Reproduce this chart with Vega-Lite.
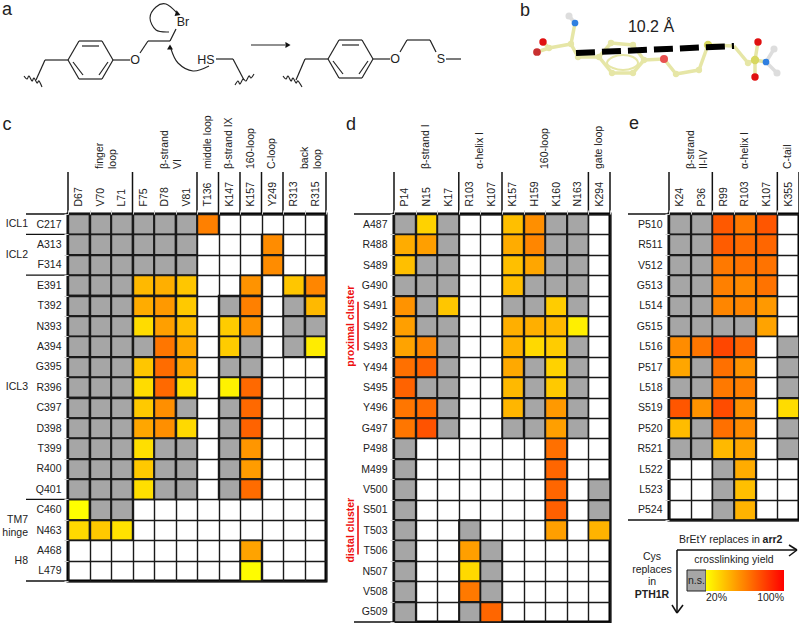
{"$schema":"https://vega.github.io/schema/vega-lite/v6.json","padding":0,"background":"white","config":{"font":"Liberation Sans","view":{"stroke":null},"text":{"lineBreak":"\n","color":"#222"},"axis":{"labelFont":"Liberation Sans"}},
"datasets":{
"c":[{"row":"C217","col":"D67"},{"row":"C217","col":"V70"},{"row":"C217","col":"L71"},{"row":"C217","col":"F75"},{"row":"C217","col":"D78"},{"row":"C217","col":"V81"},{"row":"C217","col":"T136","yield":60},
{"row":"A313","col":"D67"},{"row":"A313","col":"V70"},{"row":"A313","col":"L71"},{"row":"A313","col":"F75"},{"row":"A313","col":"D78"},{"row":"A313","col":"V81"},{"row":"A313","col":"Y249","yield":56},
{"row":"F314","col":"D67"},{"row":"F314","col":"V70"},{"row":"F314","col":"L71"},{"row":"F314","col":"F75"},{"row":"F314","col":"D78"},{"row":"F314","col":"V81"},{"row":"F314","col":"Y249","yield":56},
{"row":"E391","col":"D67"},{"row":"E391","col":"V70"},{"row":"E391","col":"L71"},{"row":"E391","col":"F75","yield":42},{"row":"E391","col":"D78","yield":45},{"row":"E391","col":"V81","yield":38},{"row":"E391","col":"K157","yield":54},{"row":"E391","col":"R313","yield":38},{"row":"E391","col":"R315","yield":58},
{"row":"T392","col":"D67"},{"row":"T392","col":"V70"},{"row":"T392","col":"L71"},{"row":"T392","col":"F75","yield":46},{"row":"T392","col":"D78","yield":52},{"row":"T392","col":"V81","yield":37},{"row":"T392","col":"K147"},{"row":"T392","col":"K157","yield":60},{"row":"T392","col":"R313"},{"row":"T392","col":"R315","yield":42},
{"row":"N393","col":"D67"},{"row":"N393","col":"V70"},{"row":"N393","col":"L71"},{"row":"N393","col":"F75","yield":31},{"row":"N393","col":"D78","yield":50},{"row":"N393","col":"V81","yield":40},{"row":"N393","col":"K147","yield":36},{"row":"N393","col":"K157","yield":54},{"row":"N393","col":"R313"},{"row":"N393","col":"R315"},
{"row":"A394","col":"D67"},{"row":"A394","col":"V70"},{"row":"A394","col":"L71"},{"row":"A394","col":"F75"},{"row":"A394","col":"D78","yield":63},{"row":"A394","col":"V81","yield":47},{"row":"A394","col":"K147","yield":36},{"row":"A394","col":"K157"},{"row":"A394","col":"R313"},{"row":"A394","col":"R315","yield":26},
{"row":"G395","col":"D67"},{"row":"G395","col":"V70"},{"row":"G395","col":"L71"},{"row":"G395","col":"F75","yield":38},{"row":"G395","col":"D78","yield":66},{"row":"G395","col":"V81","yield":47},{"row":"G395","col":"K147"},{"row":"G395","col":"K157"},
{"row":"R396","col":"D67"},{"row":"R396","col":"V70"},{"row":"R396","col":"L71"},{"row":"R396","col":"F75","yield":31},{"row":"R396","col":"D78","yield":67},{"row":"R396","col":"V81","yield":30},{"row":"R396","col":"K147","yield":24},{"row":"R396","col":"K157","yield":67},
{"row":"C397","col":"D67"},{"row":"C397","col":"V70"},{"row":"C397","col":"L71"},{"row":"C397","col":"F75","yield":37},{"row":"C397","col":"D78","yield":55},{"row":"C397","col":"V81"},{"row":"C397","col":"K147"},{"row":"C397","col":"K157","yield":67},
{"row":"D398","col":"D67"},{"row":"D398","col":"V70"},{"row":"D398","col":"L71"},{"row":"D398","col":"F75","yield":48},{"row":"D398","col":"D78","yield":55},{"row":"D398","col":"V81","yield":32},{"row":"D398","col":"K147"},{"row":"D398","col":"K157","yield":69},
{"row":"T399","col":"D67"},{"row":"T399","col":"V70"},{"row":"T399","col":"L71"},{"row":"T399","col":"F75","yield":30},{"row":"T399","col":"D78"},{"row":"T399","col":"V81"},{"row":"T399","col":"K147"},{"row":"T399","col":"K157","yield":53},
{"row":"R400","col":"D67"},{"row":"R400","col":"V70"},{"row":"R400","col":"L71"},{"row":"R400","col":"F75","yield":37},{"row":"R400","col":"D78"},{"row":"R400","col":"V81"},{"row":"R400","col":"K147"},{"row":"R400","col":"K157","yield":51},
{"row":"Q401","col":"D67"},{"row":"Q401","col":"V70"},{"row":"Q401","col":"L71"},{"row":"Q401","col":"F75","yield":30},{"row":"Q401","col":"D78"},{"row":"Q401","col":"V81"},{"row":"Q401","col":"K147"},{"row":"Q401","col":"K157","yield":66},
{"row":"C460","col":"D67","yield":20},{"row":"C460","col":"V70"},{"row":"C460","col":"L71"},
{"row":"N463","col":"D67","yield":32},{"row":"N463","col":"V70","yield":37},{"row":"N463","col":"L71","yield":29},
{"row":"A468","col":"K157","yield":49},{"row":"L479","col":"K157","yield":21}],
"d":[{"row":"A487","col":"P14"},{"row":"A487","col":"N15","yield":34},{"row":"A487","col":"K17"},{"row":"A487","col":"K157","yield":40},{"row":"A487","col":"H159","yield":55},{"row":"A487","col":"K160"},{"row":"A487","col":"N163"},
{"row":"R488","col":"P14","yield":46},{"row":"R488","col":"N15","yield":50},{"row":"R488","col":"K17"},{"row":"R488","col":"K157","yield":46},{"row":"R488","col":"H159","yield":58},{"row":"R488","col":"K160"},{"row":"R488","col":"N163"},
{"row":"S489","col":"P14","yield":40},{"row":"S489","col":"N15"},{"row":"S489","col":"K17"},{"row":"S489","col":"K157","yield":40},{"row":"S489","col":"H159","yield":48},{"row":"S489","col":"K160"},{"row":"S489","col":"N163"},
{"row":"G490","col":"P14"},{"row":"G490","col":"N15"},{"row":"G490","col":"K17"},{"row":"G490","col":"K157","yield":40},{"row":"G490","col":"H159"},{"row":"G490","col":"K160"},{"row":"G490","col":"N163"},
{"row":"S491","col":"P14","yield":54},{"row":"S491","col":"N15"},{"row":"S491","col":"K17","yield":38},{"row":"S491","col":"K157"},{"row":"S491","col":"H159"},{"row":"S491","col":"K160","yield":36},{"row":"S491","col":"N163"},
{"row":"S492","col":"P14","yield":50},{"row":"S492","col":"N15"},{"row":"S492","col":"K17"},{"row":"S492","col":"K157","yield":45},{"row":"S492","col":"H159","yield":45},{"row":"S492","col":"K160","yield":42},{"row":"S492","col":"N163","yield":25},
{"row":"S493","col":"P14","yield":49},{"row":"S493","col":"N15","yield":58},{"row":"S493","col":"K17"},{"row":"S493","col":"K157","yield":44},{"row":"S493","col":"H159","yield":32},{"row":"S493","col":"K160","yield":36},{"row":"S493","col":"N163"},
{"row":"Y494","col":"P14","yield":65},{"row":"Y494","col":"N15","yield":69},{"row":"Y494","col":"K17"},{"row":"Y494","col":"K157","yield":47},{"row":"Y494","col":"H159"},{"row":"Y494","col":"K160","yield":34},{"row":"Y494","col":"N163"},
{"row":"S495","col":"P14","yield":69},{"row":"S495","col":"N15"},{"row":"S495","col":"K17"},{"row":"S495","col":"K157","yield":42},{"row":"S495","col":"H159"},{"row":"S495","col":"K160","yield":37},{"row":"S495","col":"N163"},
{"row":"Y496","col":"P14","yield":63},{"row":"Y496","col":"N15","yield":66},{"row":"Y496","col":"K17"},{"row":"Y496","col":"K157","yield":43},{"row":"Y496","col":"H159"},{"row":"Y496","col":"K160","yield":52},{"row":"Y496","col":"N163"},
{"row":"G497","col":"P14","yield":63},{"row":"G497","col":"N15","yield":74},{"row":"G497","col":"K17"},{"row":"G497","col":"K157"},{"row":"G497","col":"H159"},{"row":"G497","col":"K160","yield":50},{"row":"G497","col":"N163"},
{"row":"P498","col":"P14"},{"row":"P498","col":"K160","yield":65},{"row":"M499","col":"P14"},{"row":"M499","col":"K160","yield":68},
{"row":"V500","col":"P14"},{"row":"V500","col":"K160","yield":68},{"row":"V500","col":"K294"},
{"row":"S501","col":"P14"},{"row":"S501","col":"K160","yield":70},{"row":"S501","col":"K294"},
{"row":"T503","col":"P14"},{"row":"T503","col":"R103"},{"row":"T503","col":"K160","yield":50},{"row":"T503","col":"K294","yield":44},
{"row":"T506","col":"P14"},{"row":"T506","col":"R103","yield":50},{"row":"T506","col":"K107"},
{"row":"N507","col":"P14"},{"row":"N507","col":"R103","yield":32},{"row":"N507","col":"K107"},
{"row":"V508","col":"P14"},{"row":"V508","col":"R103","yield":62},{"row":"V508","col":"K107"},
{"row":"G509","col":"P14"},{"row":"G509","col":"R103"},{"row":"G509","col":"K107","yield":68}],
"e":[{"row":"P510","col":"K24"},{"row":"P510","col":"P36"},{"row":"P510","col":"R99","yield":72},{"row":"P510","col":"R103","yield":62},{"row":"P510","col":"K107","yield":73},
{"row":"R511","col":"K24"},{"row":"R511","col":"P36"},{"row":"R511","col":"R99","yield":71},{"row":"R511","col":"R103","yield":66},{"row":"R511","col":"K107","yield":68},
{"row":"V512","col":"K24"},{"row":"V512","col":"P36"},{"row":"V512","col":"R99","yield":62},{"row":"V512","col":"R103","yield":64},{"row":"V512","col":"K107","yield":64},
{"row":"G513","col":"K24"},{"row":"G513","col":"P36"},{"row":"G513","col":"R99","yield":60},{"row":"G513","col":"R103","yield":57},{"row":"G513","col":"K107","yield":64},
{"row":"L514","col":"K24"},{"row":"L514","col":"P36"},{"row":"L514","col":"R99","yield":58},{"row":"L514","col":"R103","yield":58},{"row":"L514","col":"K107","yield":52},
{"row":"G515","col":"K24"},{"row":"G515","col":"P36"},{"row":"G515","col":"R99"},{"row":"G515","col":"R103"},{"row":"G515","col":"K107","yield":49},
{"row":"L516","col":"K24","yield":56},{"row":"L516","col":"P36","yield":63},{"row":"L516","col":"R99","yield":78},{"row":"L516","col":"R103","yield":68},{"row":"L516","col":"K355"},
{"row":"P517","col":"K24","yield":48},{"row":"P517","col":"P36"},{"row":"P517","col":"R99","yield":65},{"row":"P517","col":"R103","yield":54},{"row":"P517","col":"K355"},
{"row":"L518","col":"K24"},{"row":"L518","col":"P36"},{"row":"L518","col":"R99","yield":62},{"row":"L518","col":"R103","yield":60},{"row":"L518","col":"K355"},
{"row":"S519","col":"K24","yield":73},{"row":"S519","col":"P36","yield":54},{"row":"S519","col":"R99","yield":76},{"row":"S519","col":"R103","yield":55},{"row":"S519","col":"K355","yield":31},
{"row":"P520","col":"K24","yield":41},{"row":"P520","col":"P36"},{"row":"P520","col":"R99","yield":65},{"row":"P520","col":"R103","yield":56},{"row":"P520","col":"K355"},
{"row":"R521","col":"K24"},{"row":"R521","col":"P36"},{"row":"R521","col":"R99","yield":42},{"row":"R521","col":"R103","yield":48},{"row":"R521","col":"K355"},
{"row":"L522","col":"R99"},{"row":"L522","col":"R103","yield":46},{"row":"L523","col":"R99"},{"row":"L523","col":"R103","yield":40},{"row":"P524","col":"R99"},{"row":"P524","col":"R103","yield":44}]
},
"vconcat":[
{"width":732,"height":130,"data":{"values":[{"x":0.5,"y":0.5}]},
"layer":[
{"mark":{"type":"point","opacity":0,"size":1,"strokeWidth":0},"encoding":{"x":{"field":"x","type":"quantitative","scale":{"domain":[67,799],"nice":false,"zero":false},"axis":null},"y":{"field":"y","type":"quantitative","scale":{"domain":[130,0],"nice":false,"zero":false},"axis":null}}},
{"data":{"values":[{"x":35,"y":80,"x2":44,"y2":60},{"x":44,"y":60,"x2":67,"y2":60},{"x":67,"y":60,"x2":78,"y2":41},{"x":78,"y":41,"x2":101,"y2":41},{"x":101,"y":41,"x2":112,"y2":60},{"x":112,"y":60,"x2":101,"y2":79},{"x":101,"y":79,"x2":78,"y2":79},{"x":78,"y":79,"x2":67,"y2":60},{"x":81,"y":46,"x2":98,"y2":46},{"x":72,"y":62,"x2":82,"y2":75},{"x":107,"y":62,"x2":98,"y2":75},{"x":112,"y":60,"x2":129,"y2":60},{"x":139,"y":53,"x2":147,"y2":41},{"x":147,"y":41,"x2":169,"y2":41},{"x":169,"y":41,"x2":175,"y2":29},{"x":215,"y":59,"x2":232,"y2":59},{"x":232,"y":59,"x2":243,"y2":80},{"x":295,"y":80,"x2":304,"y2":59},{"x":304,"y":59,"x2":327,"y2":59},{"x":327,"y":59,"x2":338,"y2":40},{"x":338,"y":40,"x2":361,"y2":40},{"x":361,"y":40,"x2":372,"y2":59},{"x":372,"y":59,"x2":361,"y2":78},{"x":361,"y":78,"x2":338,"y2":78},{"x":338,"y":78,"x2":327,"y2":59},{"x":341,"y":45,"x2":358,"y2":45},{"x":332,"y":61,"x2":342,"y2":74},{"x":367,"y":61,"x2":358,"y2":74},{"x":372,"y":59,"x2":389,"y2":59},{"x":399,"y":52,"x2":406,"y2":40},{"x":406,"y":40,"x2":429,"y2":40},{"x":429,"y":40,"x2":435,"y2":52},{"x":445,"y":59,"x2":460,"y2":59},{"x":250,"y":45,"x2":284,"y2":45}]},"mark":{"type":"rule","color":"#222","strokeWidth":1.2},"encoding":{"x":{"field":"x","type":"quantitative","axis":null},"y":{"field":"y","type":"quantitative","axis":null},"x2":{"field":"x2"},"y2":{"field":"y2"}}},
{"data":{"values":[{"s":"a1","i":1,"x":168,"y":32},{"s":"a1","i":2,"x":155,"y":30},{"s":"a1","i":3,"x":149,"y":18},{"s":"a1","i":4,"x":155,"y":7},{"s":"a1","i":5,"x":165,"y":4},{"s":"a1","i":6,"x":176,"y":13},
{"s":"a2","i":1,"x":208,"y":66},{"s":"a2","i":2,"x":192,"y":71},{"s":"a2","i":3,"x":177,"y":63},{"s":"a2","i":4,"x":170,"y":49},
{"s":"w1","i":1,"x":23,"y":76},{"s":"w1","i":2,"x":26,"y":79},{"s":"w1","i":3,"x":28,"y":76},{"s":"w1","i":4,"x":31,"y":81},{"s":"w1","i":5,"x":33,"y":78},{"s":"w1","i":6,"x":36,"y":83},{"s":"w1","i":7,"x":38,"y":81},{"s":"w1","i":8,"x":41,"y":87},
{"s":"w2","i":1,"x":234,"y":85},{"s":"w2","i":2,"x":237,"y":81},{"s":"w2","i":3,"x":239,"y":84},{"s":"w2","i":4,"x":242,"y":79},{"s":"w2","i":5,"x":245,"y":81},{"s":"w2","i":6,"x":248,"y":76},{"s":"w2","i":7,"x":250,"y":78},{"s":"w2","i":8,"x":253,"y":74},
{"s":"w3","i":1,"x":282,"y":76},{"s":"w3","i":2,"x":285,"y":79},{"s":"w3","i":3,"x":287,"y":76},{"s":"w3","i":4,"x":290,"y":81},{"s":"w3","i":5,"x":292,"y":78},{"s":"w3","i":6,"x":295,"y":83},{"s":"w3","i":7,"x":297,"y":81},{"s":"w3","i":8,"x":301,"y":87}]},"mark":{"type":"line","interpolate":"cardinal","color":"#222","strokeWidth":1.1},"encoding":{"x":{"field":"x","type":"quantitative","axis":null},"y":{"field":"y","type":"quantitative","axis":null},"detail":{"field":"s"},"order":{"field":"i"}}},
{"data":{"values":[{"x":177,"y":14,"a":110},{"x":169,"y":47,"a":0},{"x":287,"y":45,"a":90}]},"mark":{"type":"point","shape":"triangle-up","filled":true,"color":"#111","opacity":1,"size":35},"encoding":{"x":{"field":"x","type":"quantitative","axis":null},"y":{"field":"y","type":"quantitative","axis":null},"angle":{"field":"a","type":"quantitative","scale":null}}},
{"data":{"values":[{"atom":"C","x":570,"y":44,"x2":574,"y2":23},{"atom":"H","x":574,"y":23,"x2":568,"y2":16},{"atom":"C","x":570,"y":44,"x2":548,"y2":48},{"atom":"C","x":548,"y":48,"x2":542,"y2":42},{"atom":"C","x":548,"y":48,"x2":536,"y2":52},{"atom":"C","x":570,"y":44,"x2":577,"y2":57},{"atom":"C","x":577,"y":57,"x2":598,"y2":57},{"atom":"C","x":598,"y":57,"x2":610,"y2":43},{"atom":"C","x":610,"y":43,"x2":632,"y2":45},{"atom":"C","x":632,"y":45,"x2":643,"y2":60},{"atom":"C","x":643,"y":60,"x2":632,"y2":73},{"atom":"C","x":632,"y":73,"x2":611,"y2":73},{"atom":"C","x":611,"y":73,"x2":598,"y2":57},{"atom":"C","x":643,"y":60,"x2":663,"y2":59},{"atom":"C","x":663,"y":59,"x2":675,"y2":74},{"atom":"C","x":675,"y":74,"x2":698,"y2":70},{"atom":"C","x":698,"y":70,"x2":707,"y2":45},{"atom":"C","x":707,"y":45,"x2":733,"y2":46},{"atom":"C","x":733,"y":46,"x2":747,"y2":63},{"atom":"C","x":747,"y":63,"x2":754,"y2":60},{"atom":"C","x":754,"y":60,"x2":757,"y2":42},{"atom":"C","x":754,"y":60,"x2":754,"y2":77},{"atom":"C","x":754,"y":60,"x2":765,"y2":62},{"atom":"H","x":765,"y":62,"x2":773,"y2":49},{"atom":"H","x":765,"y":62,"x2":776,"y2":73}]},"mark":{"type":"rule","strokeWidth":3.5},"encoding":{"x":{"field":"x","type":"quantitative","axis":null},"y":{"field":"y","type":"quantitative","axis":null},"x2":{"field":"x2"},"y2":{"field":"y2"},"color":{"field":"atom","type":"nominal","legend":null,"scale":{"domain":["C","N","H","O","O2","O3","S"],"range":["#e6e6a6","#2f7fe0","#dddddd","#e01010","#c83030","#e85050","#d8d860"]}}}},
{"data":{"values":[{"s":"r","i":1,"x":606,"y":63},{"s":"r","i":2,"x":612,"y":57},{"s":"r","i":3,"x":622,"y":55},{"s":"r","i":4,"x":632,"y":57},{"s":"r","i":5,"x":637,"y":63},{"s":"r","i":6,"x":632,"y":68},{"s":"r","i":7,"x":622,"y":70},{"s":"r","i":8,"x":612,"y":68}]},"mark":{"type":"line","interpolate":"cardinal-closed","color":"#e6e6a6","strokeWidth":2},"encoding":{"x":{"field":"x","type":"quantitative","axis":null},"y":{"field":"y","type":"quantitative","axis":null},"order":{"field":"i"}}},
{"data":{"values":[{"atom":"N","x":574,"y":23},{"atom":"H","x":568,"y":16},{"atom":"O","x":542,"y":42},{"atom":"O2","x":536,"y":52},{"atom":"C","x":570,"y":44},{"atom":"C","x":548,"y":48},{"atom":"C","x":577,"y":57},{"atom":"C","x":598,"y":57},{"atom":"C","x":610,"y":43},{"atom":"C","x":632,"y":45},{"atom":"C","x":643,"y":60},{"atom":"C","x":632,"y":73},{"atom":"C","x":611,"y":73},{"atom":"O3","x":663,"y":59},{"atom":"C","x":675,"y":74},{"atom":"C","x":698,"y":70},{"atom":"S","x":707,"y":45},{"atom":"C","x":747,"y":63},{"atom":"S","x":754,"y":60},{"atom":"O","x":757,"y":42},{"atom":"O","x":754,"y":77},{"atom":"N","x":765,"y":62},{"atom":"H","x":773,"y":49},{"atom":"H","x":776,"y":73}]},"mark":{"type":"point","filled":true,"opacity":1},"encoding":{"x":{"field":"x","type":"quantitative","axis":null},"y":{"field":"y","type":"quantitative","axis":null},"color":{"field":"atom","type":"nominal","legend":null,"scale":{"domain":["C","N","H","O","O2","O3","S"],"range":["#e6e6a6","#2f7fe0","#dddddd","#e01010","#c83030","#e85050","#d8d860"]}},"size":{"field":"atom","type":"nominal","legend":null,"scale":{"domain":["C","N","H","O","O2","O3","S"],"range":[40,70,14,60,60,50,40]}}}},
{"data":{"values":[{"x":575,"y":53,"x2":733,"y2":46}]},"mark":{"type":"rule","color":"#000","strokeWidth":6,"strokeDash":[19,7]},"encoding":{"x":{"field":"x","type":"quantitative","axis":null},"y":{"field":"y","type":"quantitative","axis":null},"x2":{"field":"x2"},"y2":{"field":"y2"}}},
{"data":{"values":[{"x":134,"y":60,"t":"O","s":12.5},{"x":182,"y":22,"t":"Br","s":12.5},{"x":205,"y":60,"t":"HS","s":12.5},{"x":394,"y":59,"t":"O","s":12.5},{"x":440,"y":59,"t":"S","s":12.5},{"x":650,"y":27,"t":"10.2 Å","s":16},{"x":6,"y":10,"t":"a","s":18},{"x":524,"y":11,"t":"b","s":18},{"x":6,"y":125,"t":"c","s":18},{"x":350,"y":125,"t":"d","s":18},{"x":633,"y":124,"t":"e","s":18}]},"mark":{"type":"text","align":"center","baseline":"middle"},"encoding":{"x":{"field":"x","type":"quantitative","axis":null},"y":{"field":"y","type":"quantitative","axis":null},"text":{"field":"t"},"size":{"field":"s","type":"quantitative","scale":null}}},
{"data":{"values":[{"x":686,"y":570,"x2":705,"y2":591}]},"mark":{"type":"rect","fill":"#a6a6a6","stroke":"#222","strokeWidth":1},"encoding":{"x":{"field":"x","type":"quantitative","axis":null},"x2":{"field":"x2"},"y":{"field":"y","type":"quantitative","axis":null},"y2":{"field":"y2"}}},
{"data":{"values":[{"x":676,"y":550,"x2":796,"y2":550},{"x":788,"y":545,"x2":796,"y2":550},{"x":788,"y":556,"x2":796,"y2":550},{"x":676,"y":550,"x2":676,"y2":613},{"x":671,"y":605,"x2":676,"y2":613},{"x":682,"y":605,"x2":676,"y2":613}]},"mark":{"type":"rule","color":"#111","strokeWidth":1.5},"encoding":{"x":{"field":"x","type":"quantitative","axis":null},"x2":{"field":"x2"},"y":{"field":"y","type":"quantitative","axis":null},"y2":{"field":"y2"}}},
{"data":{"values":[{"x":718.5,"y":540,"t":"BrEtY replaces in"},{"x":733,"y":560,"t":"crosslinking yield"},{"x":695.5,"y":581,"t":"n.s."},{"x":651,"y":557,"t":"Cys"},{"x":651,"y":570,"t":"replaces"},{"x":651,"y":582,"t":"in"}]},"mark":{"type":"text","fontSize":10.5,"align":"center","baseline":"middle"},"encoding":{"x":{"field":"x","type":"quantitative","axis":null},"y":{"field":"y","type":"quantitative","axis":null},"text":{"field":"t"}}},
{"data":{"values":[{"x":771.5,"y":540,"t":"arr2"},{"x":651,"y":595,"t":"PTH1R"}]},"mark":{"type":"text","fontSize":10.5,"fontWeight":"bold","align":"center","baseline":"middle"},"encoding":{"x":{"field":"x","type":"quantitative","axis":null},"y":{"field":"y","type":"quantitative","axis":null},"text":{"field":"t"}}}
]},
{"resolve":{"scale":{"fill":"independent"}},"hconcat":[
{"width":258,"height":367,"view":{"stroke":"#000","strokeWidth":3},"encoding":{
"x":{"field":"col","type":"nominal","scale":{"type":"band","domain":["D67","V70","L71","F75","D78","V81","T136","K147","K157","Y249","R313","R315"],"padding":0},"axis":{"orient":"top","title":null,"labelAngle":270,"labelAlign":"left","labelBaseline":"middle","labelPadding":4,"labelFontSize":10.5,"labelColor":"#222","domain":false,"grid":true,"tickBand":"extent","gridColor":"#1a1a1a","gridWidth":1.4,"tickColor":"#cccccc","tickSize":4,"labelOverlap":false}},
"y":{"field":"row","type":"nominal","scale":{"type":"band","domain":["C217","A313","F314","E391","T392","N393","A394","G395","R396","C397","D398","T399","R400","Q401","C460","N463","A468","L479"],"padding":0},"axis":{"title":null,"labelPadding":3,"labelFontSize":10.5,"labelColor":"#222","domain":false,"grid":true,"tickBand":"extent","gridColor":"#1a1a1a","gridWidth":1.4,"tickColor":"#cccccc","tickSize":4,"labelOverlap":false}}},
"layer":[
{"data":{"name":"c"},"mark":{"type":"rect","stroke":"#1a1a1a","strokeWidth":1.4,"invalid":"show"},"encoding":{"fill":{"condition":{"test":"datum.yield==null","value":"#a6a6a6"},"field":"yield","type":"quantitative","scale":{"domain":[20,100],"range":["#ffff00","#ff0000"],"interpolate":"rgb"},"legend":null}}},
{"data":{"values":[{"col":"D67","row":"C217"},{"col":"F75","row":"C217"},{"col":"T136","row":"C217"},{"col":"K147","row":"C217"},{"col":"K157","row":"C217"},{"col":"Y249","row":"C217"},{"col":"R313","row":"C217"}]},"mark":{"type":"rule","color":"#111","strokeWidth":1.5,"yOffset":-42,"y2Offset":-10.2},"encoding":{"x":{"field":"col","type":"nominal","bandPosition":0,"scale":{"type":"band","domain":["D67","V70","L71","F75","D78","V81","T136","K147","K157","Y249","R313","R315"],"padding":0}},"y":{"field":"row","type":"nominal","bandPosition":0,"scale":{"type":"band","domain":["C217","A313","F314","E391","T392","N393","A394","G395","R396","C397","D398","T399","R400","Q401","C460","N463","A468","L479"],"padding":0}},"y2":{"field":"row"}}},
{"data":{"values":[{"col":"R315","row":"C217"}]},"mark":{"type":"rule","color":"#111","strokeWidth":1.5,"yOffset":-42,"y2Offset":-10.2},"encoding":{"x":{"field":"col","type":"nominal","bandPosition":1,"scale":{"type":"band","domain":["D67","V70","L71","F75","D78","V81","T136","K147","K157","Y249","R313","R315"],"padding":0}},"y":{"field":"row","type":"nominal","bandPosition":0,"scale":{"type":"band","domain":["C217","A313","F314","E391","T392","N393","A394","G395","R396","C397","D398","T399","R400","Q401","C460","N463","A468","L479"],"padding":0}},"y2":{"field":"row"}}},
{"data":{"values":[{"col":"D67","row":"C217"},{"col":"D67","row":"F314"},{"col":"D67","row":"Q401"},{"col":"D67","row":"L479"}]},"mark":{"type":"rule","color":"#111","strokeWidth":1.3,"xOffset":-42,"x2Offset":-10.75},"encoding":{"y":{"field":"row","type":"nominal","bandPosition":1,"scale":{"type":"band","domain":["C217","A313","F314","E391","T392","N393","A394","G395","R396","C397","D398","T399","R400","Q401","C460","N463","A468","L479"],"padding":0}},"x":{"field":"col","type":"nominal","bandPosition":0,"scale":{"type":"band","domain":["D67","V70","L71","F75","D78","V81","T136","K147","K157","Y249","R313","R315"],"padding":0}},"x2":{"field":"col"}}},
{"data":{"values":[{"col":"D67","row":"C217"}]},"mark":{"type":"rule","color":"#111","strokeWidth":1.3,"xOffset":-42,"x2Offset":-10.75},"encoding":{"y":{"field":"row","type":"nominal","bandPosition":0,"scale":{"type":"band","domain":["C217","A313","F314","E391","T392","N393","A394","G395","R396","C397","D398","T399","R400","Q401","C460","N463","A468","L479"],"padding":0}},"x":{"field":"col","type":"nominal","bandPosition":0,"scale":{"type":"band","domain":["D67","V70","L71","F75","D78","V81","T136","K147","K157","Y249","R313","R315"],"padding":0}},"x2":{"field":"col"}}},
{"data":{"values":[{"col":"V70","row":"C217","t":"finger\nloop"},{"col":"D78","row":"C217","t":"β-strand\nVI"},{"col":"T136","row":"C217","t":"middle loop"},{"col":"K147","row":"C217","t":"β-strand IX"},{"col":"K157","row":"C217","t":"160-loop"},{"col":"Y249","row":"C217","t":"C-loop"}]},"mark":{"type":"text","angle":270,"align":"left","baseline":"middle","fontSize":10.5,"lineHeight":13,"yOffset":-45},"encoding":{"y":{"field":"row","type":"nominal","bandPosition":0,"scale":{"type":"band","domain":["C217","A313","F314","E391","T392","N393","A394","G395","R396","C397","D398","T399","R400","Q401","C460","N463","A468","L479"],"padding":0}},"x":{"field":"col","type":"nominal","scale":{"type":"band","domain":["D67","V70","L71","F75","D78","V81","T136","K147","K157","Y249","R313","R315"],"padding":0}},"text":{"field":"t"}}},
{"data":{"values":[{"col":"R315","row":"C217","t":"back\nloop"}]},"mark":{"type":"text","angle":270,"align":"left","baseline":"middle","fontSize":10.5,"lineHeight":13,"yOffset":-45},"encoding":{"y":{"field":"row","type":"nominal","bandPosition":0,"scale":{"type":"band","domain":["C217","A313","F314","E391","T392","N393","A394","G395","R396","C397","D398","T399","R400","Q401","C460","N463","A468","L479"],"padding":0}},"x":{"field":"col","type":"nominal","bandPosition":0,"scale":{"type":"band","domain":["D67","V70","L71","F75","D78","V81","T136","K147","K157","Y249","R313","R315"],"padding":0}},"text":{"field":"t"}}},
{"data":{"values":[{"col":"D67","row":"C217","t":"ICL1"},{"col":"D67","row":"R396","t":"ICL3"}]},"mark":{"type":"text","align":"right","baseline":"middle","fontSize":10.5,"xOffset":-40},"encoding":{"x":{"field":"col","type":"nominal","bandPosition":0,"scale":{"type":"band","domain":["D67","V70","L71","F75","D78","V81","T136","K147","K157","Y249","R313","R315"],"padding":0}},"y":{"field":"row","type":"nominal","scale":{"type":"band","domain":["C217","A313","F314","E391","T392","N393","A394","G395","R396","C397","D398","T399","R400","Q401","C460","N463","A468","L479"],"padding":0}},"text":{"field":"t"}}},
{"data":{"values":[{"col":"D67","row":"A313","t":"ICL2"},{"col":"D67","row":"C460","t":"TM7\nhinge"},{"col":"D67","row":"A468","t":"H8"}]},"mark":{"type":"text","align":"right","baseline":"middle","fontSize":10.5,"lineHeight":13,"xOffset":-40},"encoding":{"x":{"field":"col","type":"nominal","bandPosition":0,"scale":{"type":"band","domain":["D67","V70","L71","F75","D78","V81","T136","K147","K157","Y249","R313","R315"],"padding":0}},"y":{"field":"row","type":"nominal","bandPosition":1,"scale":{"type":"band","domain":["C217","A313","F314","E391","T392","N393","A394","G395","R396","C397","D398","T399","R400","Q401","C460","N463","A468","L479"],"padding":0}},"text":{"field":"t"}}}
]},
{"width":66,"height":1,"data":{"values":[{"x":1}]},"mark":{"type":"point","opacity":0,"size":1},"encoding":{}},
{"width":216,"height":408,"view":{"stroke":"#000","strokeWidth":3},"encoding":{
"x":{"field":"col","type":"nominal","scale":{"type":"band","domain":["P14","N15","K17","R103","K107","K157","H159","K160","N163","K294"],"padding":0},"axis":{"orient":"top","title":null,"labelAngle":270,"labelAlign":"left","labelBaseline":"middle","labelPadding":4,"labelFontSize":10.5,"labelColor":"#222","domain":false,"grid":true,"tickBand":"extent","gridColor":"#1a1a1a","gridWidth":1.4,"tickColor":"#cccccc","tickSize":4,"labelOverlap":false}},
"y":{"field":"row","type":"nominal","scale":{"type":"band","domain":["A487","R488","S489","G490","S491","S492","S493","Y494","S495","Y496","G497","P498","M499","V500","S501","T503","T506","N507","V508","G509"],"padding":0},"axis":{"title":null,"labelPadding":3,"labelFontSize":10.5,"labelColor":"#222","domain":false,"grid":true,"tickBand":"extent","gridColor":"#1a1a1a","gridWidth":1.4,"tickColor":"#cccccc","tickSize":4,"labelOverlap":false}}},
"layer":[
{"data":{"name":"d"},"mark":{"type":"rect","stroke":"#1a1a1a","strokeWidth":1.4,"invalid":"show"},"encoding":{"fill":{"condition":{"test":"datum.yield==null","value":"#a6a6a6"},"field":"yield","type":"quantitative","scale":{"domain":[20,100],"range":["#ffff00","#ff0000"],"interpolate":"rgb"},"legend":null}}},
{"data":{"values":[{"col":"P14","row":"A487"},{"col":"R103","row":"A487"},{"col":"K157","row":"A487"},{"col":"K294","row":"A487"}]},"mark":{"type":"rule","color":"#111","strokeWidth":1.5,"yOffset":-42,"y2Offset":-10.2},"encoding":{"x":{"field":"col","type":"nominal","bandPosition":0,"scale":{"type":"band","domain":["P14","N15","K17","R103","K107","K157","H159","K160","N163","K294"],"padding":0}},"y":{"field":"row","type":"nominal","bandPosition":0,"scale":{"type":"band","domain":["A487","R488","S489","G490","S491","S492","S493","Y494","S495","Y496","G497","P498","M499","V500","S501","T503","T506","N507","V508","G509"],"padding":0}},"y2":{"field":"row"}}},
{"data":{"values":[{"col":"K294","row":"A487"}]},"mark":{"type":"rule","color":"#111","strokeWidth":1.5,"yOffset":-42,"y2Offset":-10.2},"encoding":{"x":{"field":"col","type":"nominal","bandPosition":1,"scale":{"type":"band","domain":["P14","N15","K17","R103","K107","K157","H159","K160","N163","K294"],"padding":0}},"y":{"field":"row","type":"nominal","bandPosition":0,"scale":{"type":"band","domain":["A487","R488","S489","G490","S491","S492","S493","Y494","S495","Y496","G497","P498","M499","V500","S501","T503","T506","N507","V508","G509"],"padding":0}},"y2":{"field":"row"}}},
{"data":{"values":[{"col":"P14","row":"A487"}]},"mark":{"type":"rule","color":"#111","strokeWidth":1.3,"xOffset":-40,"x2Offset":-10.8},"encoding":{"y":{"field":"row","type":"nominal","bandPosition":0,"scale":{"type":"band","domain":["A487","R488","S489","G490","S491","S492","S493","Y494","S495","Y496","G497","P498","M499","V500","S501","T503","T506","N507","V508","G509"],"padding":0}},"x":{"field":"col","type":"nominal","bandPosition":0,"scale":{"type":"band","domain":["P14","N15","K17","R103","K107","K157","H159","K160","N163","K294"],"padding":0}},"x2":{"field":"col"}}},
{"data":{"values":[{"col":"P14","row":"G509"}]},"mark":{"type":"rule","color":"#111","strokeWidth":1.3,"xOffset":-40,"x2Offset":-10.8},"encoding":{"y":{"field":"row","type":"nominal","bandPosition":1,"scale":{"type":"band","domain":["A487","R488","S489","G490","S491","S492","S493","Y494","S495","Y496","G497","P498","M499","V500","S501","T503","T506","N507","V508","G509"],"padding":0}},"x":{"field":"col","type":"nominal","bandPosition":0,"scale":{"type":"band","domain":["P14","N15","K17","R103","K107","K157","H159","K160","N163","K294"],"padding":0}},"x2":{"field":"col"}}},
{"data":{"values":[{"col":"N15","row":"A487","t":"β-strand I"},{"col":"K294","row":"A487","t":"gate loop"}]},"mark":{"type":"text","angle":270,"align":"left","baseline":"middle","fontSize":10.5,"yOffset":-45},"encoding":{"y":{"field":"row","type":"nominal","bandPosition":0,"scale":{"type":"band","domain":["A487","R488","S489","G490","S491","S492","S493","Y494","S495","Y496","G497","P498","M499","V500","S501","T503","T506","N507","V508","G509"],"padding":0}},"x":{"field":"col","type":"nominal","scale":{"type":"band","domain":["P14","N15","K17","R103","K107","K157","H159","K160","N163","K294"],"padding":0}},"text":{"field":"t"}}},
{"data":{"values":[{"col":"K107","row":"A487","t":"α-helix I"},{"col":"K160","row":"A487","t":"160-loop"}]},"mark":{"type":"text","angle":270,"align":"left","baseline":"middle","fontSize":10.5,"yOffset":-45},"encoding":{"y":{"field":"row","type":"nominal","bandPosition":0,"scale":{"type":"band","domain":["A487","R488","S489","G490","S491","S492","S493","Y494","S495","Y496","G497","P498","M499","V500","S501","T503","T506","N507","V508","G509"],"padding":0}},"x":{"field":"col","type":"nominal","bandPosition":0,"scale":{"type":"band","domain":["P14","N15","K17","R103","K107","K157","H159","K160","N163","K294"],"padding":0}},"text":{"field":"t"}}},
{"data":{"values":[{"col":"P14","row":"S492","t":"proximal cluster"},{"col":"P14","row":"T503","t":"distal cluster"}]},"mark":{"type":"text","angle":270,"align":"center","baseline":"middle","fontSize":10.5,"fontWeight":"bold","color":"#ee1111","xOffset":-43},"encoding":{"y":{"field":"row","type":"nominal","scale":{"type":"band","domain":["A487","R488","S489","G490","S491","S492","S493","Y494","S495","Y496","G497","P498","M499","V500","S501","T503","T506","N507","V508","G509"],"padding":0}},"x":{"field":"col","type":"nominal","bandPosition":0,"scale":{"type":"band","domain":["P14","N15","K17","R103","K107","K157","H159","K160","N163","K294"],"padding":0}},"text":{"field":"t"}}},
{"data":{"values":[{"col":"P14","row":"S491","row2":"S493"},{"col":"P14","row":"S501","row2":"T506"}]},"mark":{"type":"rule","color":"#ee1111","strokeWidth":1.6,"xOffset":-36,"y2Offset":4},"encoding":{"y":{"field":"row","type":"nominal","bandPosition":0.3,"scale":{"type":"band","domain":["A487","R488","S489","G490","S491","S492","S493","Y494","S495","Y496","G497","P498","M499","V500","S501","T503","T506","N507","V508","G509"],"padding":0}},"y2":{"field":"row2"},"x":{"field":"col","type":"nominal","bandPosition":0,"scale":{"type":"band","domain":["P14","N15","K17","R103","K107","K157","H159","K160","N163","K294"],"padding":0}}}}
]},
{"width":57,"height":1,"data":{"values":[{"x":1}]},"mark":{"type":"point","opacity":0,"size":1},"encoding":{}},
{"width":130,"height":306,"view":{"stroke":"#000","strokeWidth":3},"encoding":{
"x":{"field":"col","type":"nominal","scale":{"type":"band","domain":["K24","P36","R99","R103","K107","K355"],"padding":0},"axis":{"orient":"top","title":null,"labelAngle":270,"labelAlign":"left","labelBaseline":"middle","labelPadding":4,"labelFontSize":10.5,"labelColor":"#222","domain":false,"grid":true,"tickBand":"extent","gridColor":"#1a1a1a","gridWidth":1.4,"tickColor":"#cccccc","tickSize":4,"labelOverlap":false}},
"y":{"field":"row","type":"nominal","scale":{"type":"band","domain":["P510","R511","V512","G513","L514","G515","L516","P517","L518","S519","P520","R521","L522","L523","P524"],"padding":0},"axis":{"title":null,"labelPadding":3,"labelFontSize":10.5,"labelColor":"#222","domain":false,"grid":true,"tickBand":"extent","gridColor":"#1a1a1a","gridWidth":1.4,"tickColor":"#cccccc","tickSize":4,"labelOverlap":false}}},
"layer":[
{"data":{"name":"e"},"mark":{"type":"rect","stroke":"#1a1a1a","strokeWidth":1.4,"invalid":"show"},"encoding":{"fill":{"condition":{"test":"datum.yield==null","value":"#a6a6a6"},"field":"yield","type":"quantitative","scale":{"domain":[20,100],"range":["#ffff00","#ff0000"],"interpolate":"rgb"},"legend":{"orient":"none","legendX":37,"legendY":356,"direction":"horizontal","title":null,"gradientLength":78,"gradientThickness":21,"values":[20,100],"labelExpr":"datum.value+'%'","labelFontSize":10.5,"labelColor":"#222","labelFont":"Liberation Sans"}}}},
{"data":{"values":[{"col":"K24","row":"P510"},{"col":"R99","row":"P510"},{"col":"K355","row":"P510"}]},"mark":{"type":"rule","color":"#111","strokeWidth":1.5,"yOffset":-42,"y2Offset":-10.2},"encoding":{"x":{"field":"col","type":"nominal","bandPosition":0,"scale":{"type":"band","domain":["K24","P36","R99","R103","K107","K355"],"padding":0}},"y":{"field":"row","type":"nominal","bandPosition":0,"scale":{"type":"band","domain":["P510","R511","V512","G513","L514","G515","L516","P517","L518","S519","P520","R521","L522","L523","P524"],"padding":0}},"y2":{"field":"row"}}},
{"data":{"values":[{"col":"K355","row":"P510"}]},"mark":{"type":"rule","color":"#111","strokeWidth":1.5,"yOffset":-42,"y2Offset":-10.2},"encoding":{"x":{"field":"col","type":"nominal","bandPosition":1,"scale":{"type":"band","domain":["K24","P36","R99","R103","K107","K355"],"padding":0}},"y":{"field":"row","type":"nominal","bandPosition":0,"scale":{"type":"band","domain":["P510","R511","V512","G513","L514","G515","L516","P517","L518","S519","P520","R521","L522","L523","P524"],"padding":0}},"y2":{"field":"row"}}},
{"data":{"values":[{"col":"K24","row":"P510"}]},"mark":{"type":"rule","color":"#111","strokeWidth":1.3,"xOffset":-41,"x2Offset":-10.8},"encoding":{"y":{"field":"row","type":"nominal","bandPosition":0,"scale":{"type":"band","domain":["P510","R511","V512","G513","L514","G515","L516","P517","L518","S519","P520","R521","L522","L523","P524"],"padding":0}},"x":{"field":"col","type":"nominal","bandPosition":0,"scale":{"type":"band","domain":["K24","P36","R99","R103","K107","K355"],"padding":0}},"x2":{"field":"col"}}},
{"data":{"values":[{"col":"K24","row":"P524"}]},"mark":{"type":"rule","color":"#111","strokeWidth":1.3,"xOffset":-41,"x2Offset":-10.8},"encoding":{"y":{"field":"row","type":"nominal","bandPosition":1,"scale":{"type":"band","domain":["P510","R511","V512","G513","L514","G515","L516","P517","L518","S519","P520","R521","L522","L523","P524"],"padding":0}},"x":{"field":"col","type":"nominal","bandPosition":0,"scale":{"type":"band","domain":["K24","P36","R99","R103","K107","K355"],"padding":0}},"x2":{"field":"col"}}},
{"data":{"values":[{"col":"R103","row":"P510","t":"α-helix I"},{"col":"K355","row":"P510","t":"C-tail"}]},"mark":{"type":"text","angle":270,"align":"left","baseline":"middle","fontSize":10.5,"yOffset":-45},"encoding":{"y":{"field":"row","type":"nominal","bandPosition":0,"scale":{"type":"band","domain":["P510","R511","V512","G513","L514","G515","L516","P517","L518","S519","P520","R521","L522","L523","P524"],"padding":0}},"x":{"field":"col","type":"nominal","scale":{"type":"band","domain":["K24","P36","R99","R103","K107","K355"],"padding":0}},"text":{"field":"t"}}},
{"data":{"values":[{"col":"P36","row":"P510","t":"β-strand\nII-IV"}]},"mark":{"type":"text","angle":270,"align":"left","baseline":"middle","fontSize":10.5,"lineHeight":13,"yOffset":-45},"encoding":{"y":{"field":"row","type":"nominal","bandPosition":0,"scale":{"type":"band","domain":["P510","R511","V512","G513","L514","G515","L516","P517","L518","S519","P520","R521","L522","L523","P524"],"padding":0}},"x":{"field":"col","type":"nominal","bandPosition":0,"scale":{"type":"band","domain":["K24","P36","R99","R103","K107","K355"],"padding":0}},"text":{"field":"t"}}}
]}
],"spacing":1,"bounds":"flush"}
],"spacing":84,"bounds":"flush"}
